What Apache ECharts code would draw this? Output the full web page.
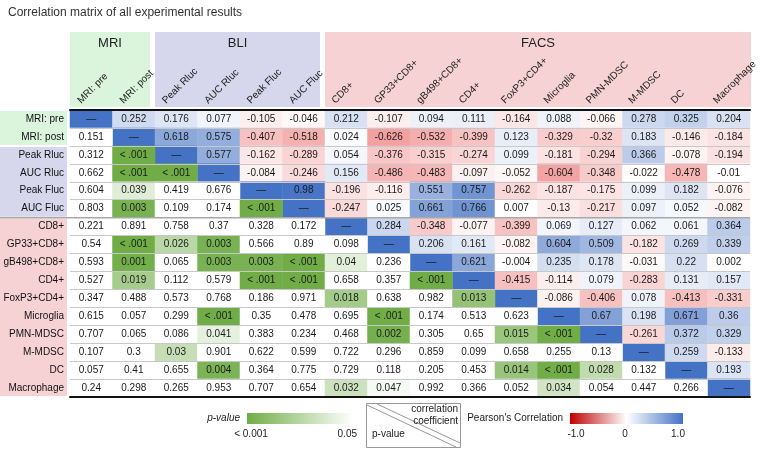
<!DOCTYPE html>
<html>
<head>
<meta charset="utf-8">
<script src="https://cdn.jsdelivr.net/npm/echarts@6/dist/echarts.min.js"></script>
<style>html,body{margin:0;padding:0;background:#fff}#c{width:760px;height:449px}</style>
</head>
<body>
<div id="c"></div>
<script>
// ---- data ----
const labels = ['MRI: pre','MRI: post','Peak Rluc','AUC Rluc','Peak Fluc','AUC Fluc','CD8+','GP33+CD8+','gB498+CD8+','CD4+','FoxP3+CD4+','Microglia','PMN-MDSC','M-MDSC','DC','Macrophage'];
const groups = [['MRI',0,1],['BLI',2,5],['FACS',6,15]];
// upper triangle: Pearson correlation, row i, columns i+1..15
const corrUpper = [
  [0.252,0.176,0.077,-0.105,-0.046,0.212,-0.107,0.094,0.111,-0.164,0.088,-0.066,0.278,0.325,0.204],
  [0.618,0.575,-0.407,-0.518,0.024,-0.626,-0.532,-0.399,0.123,-0.329,-0.32,0.183,-0.146,-0.184],
  [0.577,-0.162,-0.289,0.054,-0.376,-0.315,-0.274,0.099,-0.181,-0.294,0.366,-0.078,-0.194],
  [-0.084,-0.246,0.156,-0.486,-0.483,-0.097,-0.052,-0.604,-0.348,-0.022,-0.478,-0.01],
  [0.98,-0.196,-0.116,0.551,0.757,-0.262,-0.187,-0.175,0.099,0.182,-0.076],
  [-0.247,0.025,0.661,0.766,0.007,-0.13,-0.217,0.097,0.052,-0.082],
  [0.284,-0.348,-0.077,-0.399,0.069,0.127,0.062,0.061,0.364],
  [0.206,0.161,-0.082,0.604,0.509,-0.182,0.269,0.339],
  [0.621,-0.004,0.235,0.178,-0.031,0.22,0.002],
  [-0.415,-0.114,0.079,-0.283,0.131,0.157],
  [-0.086,-0.406,0.078,-0.413,-0.331],
  [0.67,0.198,0.671,0.36],
  [-0.261,0.372,0.329],
  [0.259,-0.133],
  [0.193],
  []
];
// lower triangle: p-values, row i, columns 0..i-1 ('<.001' = below 0.001)
const pLower = [
  [],
  [0.151],
  [0.312,'<.001'],
  [0.662,'<.001','<.001'],
  [0.604,0.039,0.419,0.676],
  [0.803,0.003,0.109,0.174,'<.001'],
  [0.221,0.891,0.758,0.37,0.328,0.172],
  [0.54,'<.001',0.026,0.003,0.566,0.89,0.098],
  [0.593,0.001,0.065,0.003,0.003,'<.001',0.04,0.236],
  [0.527,0.019,0.112,0.579,'<.001','<.001',0.658,0.357,'<.001'],
  [0.347,0.488,0.573,0.768,0.186,0.971,0.018,0.638,0.982,0.013],
  [0.615,0.057,0.299,'<.001',0.35,0.478,0.695,'<.001',0.174,0.513,0.623],
  [0.707,0.065,0.086,0.041,0.383,0.234,0.468,0.002,0.305,0.65,0.015,'<.001'],
  [0.107,0.3,0.03,0.901,0.622,0.599,0.722,0.296,0.859,0.099,0.658,0.255,0.13],
  [0.057,0.41,0.655,0.004,0.364,0.775,0.729,0.118,0.205,0.453,0.014,'<.001',0.028,0.132],
  [0.24,0.298,0.265,0.953,0.707,0.654,0.032,0.047,0.992,0.366,0.052,0.034,0.054,0.447,0.266]
];

// ---- build series data ----
const corrData = [], pData = [];
labels.forEach((_, i) => {
  corrData.push([i, i, 1, '—']);
  corrUpper[i].forEach((v, k) => { const j = i + 1 + k; corrData.push([j, i, v, String(v)]); });
  pLower[i].forEach((v, j) => {
    if (v === '<.001') pData.push([j, i, 0, '< .001']);
    else pData.push([j, i, v, String(v)]);
  });
});

// ---- layout ----
const GL = 70, GT = 110, GW = 680, GH = 287;
const cw = GW / labels.length, rh = GH / labels.length;
const FONT = 'Liberation Sans, Arial, sans-serif';
const FS = 10;
const colColors = {MRI:'#dbf5dd', BLI:'#d6d6ec', FACS:'#f7d2d4'};

const graphics = [];
groups.forEach(([name, a, b], gi) => {
  const x0 = GL + a * cw, x1 = GL + (b + 1) * cw - (gi < groups.length - 1 ? 5 : -1);
  graphics.push({type:'rect', z:-1, shape:{x:x0, y:32, width:x1 - x0, height:75}, style:{fill:colColors[name]}});
  graphics.push({type:'text', z:1, x:(x0 + x1) / 2, y:43, style:{text:name, fill:'#222', font:'13px ' + FONT, align:'center', verticalAlign:'middle'}});
  const y0 = GT + a * rh, y1 = GT + (b + 1) * rh;
  graphics.push({type:'rect', z:-1, shape:{x:0, y:y0 + 1, width:67, height:y1 - y0 - 2}, style:{fill:colColors[name]}});
});
// separator between BLI and FACS rows
graphics.push({type:'line', z:50, shape:{x1:0, y1:GT + 6 * rh, x2:GL + GW, y2:GT + 6 * rh}, style:{stroke:'#a8a8a8', lineWidth:1.5}});
// legend: p-value
const f = FS + 'px ' + FONT;
graphics.push({type:'text', x:240, y:418, style:{text:'p-value', fill:'#222', font:'italic ' + f, align:'right', verticalAlign:'middle'}});
graphics.push({type:'rect', shape:{x:247, y:413, width:106, height:11}, style:{fill:new echarts.graphic.LinearGradient(0,0,1,0,[{offset:0,color:'#70ad47'},{offset:1,color:'#ffffff'}])}});
graphics.push({type:'text', x:251, y:434, style:{text:'< 0.001', fill:'#222', font:f, align:'center', verticalAlign:'middle'}});
graphics.push({type:'text', x:357, y:434, style:{text:'0.05', fill:'#222', font:f, align:'right', verticalAlign:'middle'}});
// legend: key box
graphics.push({type:'rect', shape:{x:366.5, y:403.5, width:94, height:44}, style:{fill:'none', stroke:'#999', lineWidth:1}});
graphics.push({type:'line', shape:{x1:367, y1:405, x2:456, y2:447}, style:{stroke:'#999', lineWidth:1}});
graphics.push({type:'line', shape:{x1:377, y1:404, x2:460, y2:443}, style:{stroke:'#999', lineWidth:1}});
graphics.push({type:'text', x:458, y:409, style:{text:'correlation', fill:'#222', font:f, align:'right', verticalAlign:'middle'}});
graphics.push({type:'text', x:458, y:421, style:{text:'coefficient', fill:'#222', font:f, align:'right', verticalAlign:'middle'}});
graphics.push({type:'text', x:372, y:434, style:{text:'p-value', fill:'#222', font:f, align:'left', verticalAlign:'middle'}});
// legend: Pearson
graphics.push({type:'text', x:563, y:418, style:{text:"Pearson's Correlation", fill:'#222', font:f, align:'right', verticalAlign:'middle'}});
graphics.push({type:'rect', shape:{x:570, y:413, width:113, height:11}, style:{fill:new echarts.graphic.LinearGradient(0,0,1,0,[{offset:0,color:'#c00000'},{offset:0.5,color:'#ffffff'},{offset:1,color:'#4472c4'}])}});
graphics.push({type:'text', x:576, y:434, style:{text:'-1.0', fill:'#222', font:f, align:'center', verticalAlign:'middle'}});
graphics.push({type:'text', x:625, y:434, style:{text:'0', fill:'#222', font:f, align:'center', verticalAlign:'middle'}});
graphics.push({type:'text', x:678, y:434, style:{text:'1.0', fill:'#222', font:f, align:'center', verticalAlign:'middle'}});

const chart = echarts.init(document.getElementById('c'), null, {renderer:'canvas'});
const cellLabel = {show:true, formatter: p => p.value[3], fontSize:FS, color:'#1a1a1a', fontFamily:FONT};
chart.setOption({
  animation:false,
  backgroundColor:'#fff',
  title:{text:'Correlation matrix of all experimental results', left:3, top:2, textStyle:{fontSize:12, fontWeight:'normal', color:'#333', fontFamily:FONT}},
  grid:[
    {left:GL, top:GT, width:GW, height:GH},
    {left:GL - 12, top:GT, width:GW, height:GH}
  ],
  xAxis:[
    {type:'category', gridIndex:0, position:'top', data:labels, z:6, axisLine:{show:true, lineStyle:{color:'#111', width:2}}, axisTick:{show:false}, axisLabel:{show:false}, splitLine:{show:false}},
    {type:'category', gridIndex:0, position:'bottom', data:labels, z:6, axisLine:{show:true, lineStyle:{color:'#111', width:2}}, axisTick:{show:false}, axisLabel:{show:false}, splitLine:{show:false}},
    {type:'category', gridIndex:1, position:'top', data:labels, axisLine:{show:false}, axisTick:{show:false}, splitLine:{show:false},
      axisLabel:{show:true, rotate:-45, margin:8, fontSize:FS, color:'#222', fontFamily:FONT, interval:0}}
  ],
  yAxis:[
    {type:'category', gridIndex:0, data:labels, inverse:true, z:5, axisLine:{show:false}, axisTick:{show:false},
      axisLabel:{fontSize:FS, color:'#111', fontFamily:FONT, margin:6, interval:0},
      splitLine:{show:true, interval:0, lineStyle:{color:'#c8c8c8', width:1}}},
    {type:'category', gridIndex:1, data:labels, inverse:true, show:false}
  ],
  visualMap:[
    {type:'continuous', show:false, seriesIndex:0, dimension:2, min:-1, max:1, inRange:{color:['#ec6767','#ffffff','#4472c4']}},
    {type:'continuous', show:false, seriesIndex:1, dimension:2, min:0, max:0.05, inRange:{color:['#70ad47','#ffffff']}, outOfRange:{color:['#ffffff']}}
  ],
  series:[
    {type:'heatmap', xAxisIndex:0, yAxisIndex:0, data:corrData, label:cellLabel, emphasis:{disabled:true}, itemStyle:{borderWidth:0}},
    {type:'heatmap', xAxisIndex:0, yAxisIndex:0, data:pData, label:cellLabel, emphasis:{disabled:true}, itemStyle:{borderWidth:0}}
  ],
  graphic:graphics
});
</script>
</body>
</html>
